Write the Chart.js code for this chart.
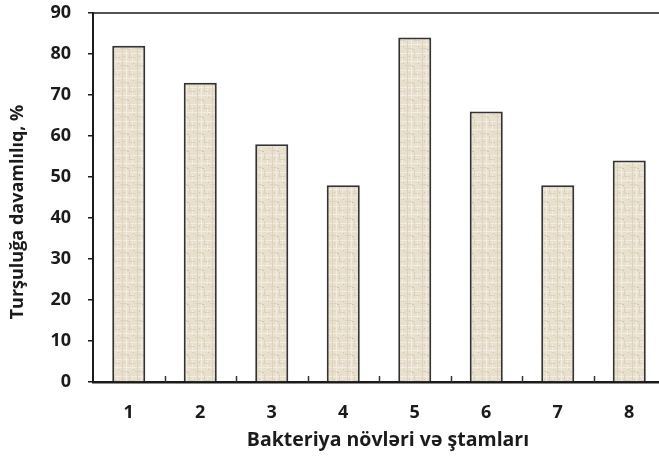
<!DOCTYPE html>
<html>
<head>
<meta charset="utf-8">
<script src="https://cdn.jsdelivr.net/npm/chart.js@4"></script>
<style>
  html, body { margin: 0; padding: 0; overflow: hidden; background: #fff; }
  canvas { display: block; }
</style>
</head>
<body>
<canvas id="c" width="666" height="459"></canvas>
<script>
// Acid resistance of bacterial species and strains
const strains = ['1', '2', '3', '4', '5', '6', '7', '8'];
const acidResistance = [82, 73, 58, 48, 84, 66, 48, 54];
const yMin = 0;
const yMax = 90;
const yStep = 10;
const xTitle = 'Bakteriya növləri və ştamları';
const yTitle = 'Turşuluğa davamlılıq, %';

const FONT = '"Open Sans", Lato, sans-serif';
const INK = '#1b1b1b';

// Small woven, linen-like tile used to fill the bars
function linenPattern(ctx) {
  const t = document.createElement('canvas');
  t.width = 15; t.height = 17;
  const g = t.getContext('2d');
  g.fillStyle = '#e8dfcd';
  g.fillRect(0, 0, 15, 17);
  g.fillStyle = '#f2ede2';
  g.fillRect(0, 2, 15, 1);
  g.fillRect(0, 10, 15, 1);
  g.fillRect(6, 0, 1, 17);
  g.fillRect(12, 4, 1, 8);
  g.fillStyle = '#ddd2bd';
  g.fillRect(2, 0, 1, 17);
  g.fillRect(9, 0, 1, 7);
  g.fillRect(0, 14, 7, 1);
  g.fillRect(8, 6, 7, 1);
  g.fillStyle = '#cfc3aa';
  g.fillRect(4, 5, 1, 1);
  g.fillRect(13, 12, 1, 1);
  g.fillRect(7, 15, 2, 1);
  return ctx.createPattern(t, 'repeat');
}

// Plot frame top line, inward category ticks and axis titles
const decorations = {
  id: 'decorations',
  afterDraw(chart) {
    const { ctx, chartArea: a, scales: { x } } = chart;
    ctx.save();
    ctx.strokeStyle = INK;
    ctx.lineWidth = 1.5;
    ctx.beginPath();
    ctx.moveTo(a.left, a.top);
    ctx.lineTo(a.right, a.top);
    ctx.stroke();

    const half = (x.getPixelForValue(1) - x.getPixelForValue(0)) / 2;
    ctx.lineWidth = 1.5;
    ctx.strokeStyle = '#333';
    for (let i = 0; i < strains.length - 1; i++) {
      const px = Math.round(x.getPixelForValue(i) + half) + 0.5;
      ctx.beginPath();
      ctx.moveTo(px, a.bottom);
      ctx.lineTo(px, a.bottom - 6);
      ctx.stroke();
    }

    ctx.fillStyle = INK;
    ctx.textAlign = 'center';
    ctx.textBaseline = 'middle';
    ctx.font = 'bold 19.5px ' + FONT;
    ctx.fillText(xTitle, 388, 440);
    ctx.font = 'bold 18px ' + FONT;
    ctx.translate(18, 212);
    ctx.rotate(-Math.PI / 2);
    ctx.fillText(yTitle, 0, 0);
    ctx.restore();
  }
};

const ctx = document.getElementById('c').getContext('2d');
new Chart(ctx, {
  type: 'bar',
  data: {
    labels: strains,
    datasets: [{
      data: acidResistance,
      backgroundColor: linenPattern(ctx),
      borderColor: '#333',
      borderWidth: 2,
      borderSkipped: 'bottom',
      barPercentage: 0.462,
      categoryPercentage: 1
    }]
  },
  options: {
    responsive: false,
    animation: false,
    layout: { padding: { top: 13, right: 1, left: 0, bottom: 0 } },
    plugins: { legend: { display: false }, tooltip: { enabled: false } },
    scales: {
      x: {
        grid: { display: true, drawOnChartArea: false, drawTicks: false, color: 'transparent' },
        border: { display: true, color: INK, width: 2.5 },
        ticks: { color: INK, font: { family: FONT, size: 18, weight: 'bold' }, padding: 20, maxRotation: 0 },
        afterFit(scale) {
          scale.height = 77;
          scale.paddingLeft = 0;
          scale.paddingRight = 0;
        }
      },
      y: {
        min: yMin,
        max: yMax,
        grid: { drawOnChartArea: false, drawTicks: true, tickLength: 5, color: INK, lineWidth: 1.5 },
        border: { display: true, color: INK, width: 2 },
        ticks: { stepSize: yStep, color: INK, font: { family: FONT, size: 18, weight: 'bold' }, padding: 17 },
        afterFit(scale) {
          scale.width = 93;
          scale.paddingTop = 0;
          scale.paddingBottom = 0;
        }
      }
    }
  },
  plugins: [decorations]
});
</script>
</body>
</html>
